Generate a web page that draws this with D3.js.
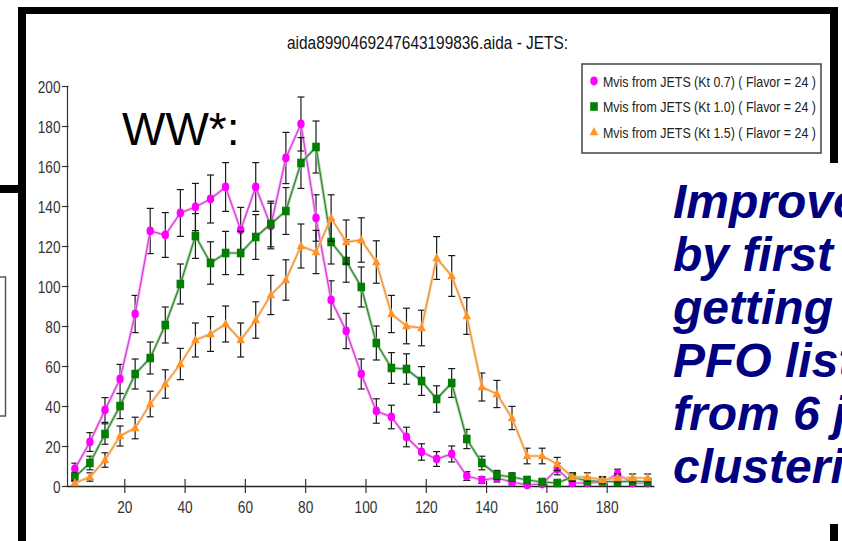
<!DOCTYPE html>
<html>
<head>
<meta charset="utf-8">
<script src="https://cdn.jsdelivr.net/npm/d3@7/dist/d3.min.js"></script>
<style>
  html, body { margin: 0; padding: 0; background: #fff; overflow: hidden; }
  svg { display: block; }
</style>
</head>
<body>
<svg id="slide" width="842" height="541"></svg>
<script>
// Visible-mass histogram bins (GeV), one point per bin centre
const binCenters = [3.6, 8.6, 13.6, 18.6, 23.6, 28.6, 33.6, 38.6, 43.6, 48.6,
  53.6, 58.6, 63.6, 68.6, 73.6, 78.6, 83.6, 88.6, 93.6, 98.6,
  103.6, 108.6, 113.6, 118.6, 123.6, 128.6, 133.6, 138.6, 143.6, 148.6,
  153.6, 158.6, 163.6, 168.6, 173.6, 178.6, 183.6, 188.6, 193.6];

// Entries per bin, Kt 0.7
const mvisKt07 = [8.5, 22, 38, 53.5, 86, 127.5, 125.5, 136.5, 139.5, 143.5,
  149.5, 128, 149.5, 130, 164, 181, 134, 93, 77.5, 56,
  37.5, 34.5, 24.5, 17, 13.5, 16, 5, 3, 4, 2,
  0.5, 1, 8.5, 1.5, 1.5, 2, 6, 1.5, 1.5];
const errKt07 = [2.9, 4.7, 6.2, 7.3, 9.3, 11.3, 11.2, 11.7, 11.8, 12.0,
  12.2, 11.3, 12.2, 11.4, 12.8, 13.5, 11.6, 9.6, 8.8, 7.5,
  6.1, 5.9, 4.9, 4.1, 3.7, 4.0, 2.2, 1.7, 2.0, 1.4,
  0.7, 1.0, 2.9, 1.2, 1.2, 1.4, 2.4, 1.2, 1.2];

// Entries per bin, Kt 1.0
const mvisKt10 = [4.5, 11.5, 26, 40, 56, 64, 80.5, 101, 125, 111.5,
  116.5, 116.5, 124.5, 131, 137.5, 161.5, 169.5, 122, 112.5, 99.5,
  71.5, 59, 58.5, 52.5, 43.5, 51.5, 23.5, 11.5, 5.5, 4.5,
  3, 2, 1.5, 4.5, 2.5, 2.5, 2, 2.5, 2];
const errKt10 = [2.1, 3.4, 5.1, 6.3, 7.5, 8.0, 9.0, 10.0, 11.2, 10.6,
  10.8, 10.8, 11.2, 11.4, 11.7, 12.7, 13.0, 11.0, 10.6, 10.0,
  8.5, 7.7, 7.6, 7.2, 6.6, 7.2, 4.8, 3.4, 2.3, 2.1,
  1.7, 1.4, 1.2, 2.1, 1.6, 1.6, 1.4, 1.6, 1.4];

// Entries per bin, Kt 1.5
const mvisKt15 = [1.5, 4.5, 13, 25, 29, 41, 51, 61, 73, 76,
  81, 73, 83, 95.5, 103, 120, 117, 134, 122, 123,
  112, 86, 80, 79, 114, 105, 85, 49.5, 46, 34,
  15, 15, 11, 4.5, 4.5, 3, 4, 4, 4];
const errKt15 = [1.2, 2.1, 3.6, 5.0, 5.4, 6.4, 7.1, 7.8, 8.5, 8.7,
  9.0, 8.5, 9.1, 9.8, 10.1, 11.0, 10.8, 11.6, 11.0, 11.1,
  10.6, 9.3, 8.9, 8.9, 10.7, 10.2, 9.2, 7.0, 6.8, 5.8,
  3.9, 3.9, 3.3, 2.1, 2.1, 1.7, 2.0, 2.0, 2.0];

const seriesNames = [
  "Mvis from JETS (Kt 0.7) ( Flavor = 24 )",
  "Mvis from JETS (Kt 1.0) ( Flavor = 24 )",
  "Mvis from JETS (Kt 1.5) ( Flavor = 24 )"
];
const xTicks = [20, 40, 60, 80, 100, 120, 140, 160, 180];
const yTicks = [0, 20, 40, 60, 80, 100, 120, 140, 160, 180, 200];
const chartTitle = "aida8990469247643199836.aida - JETS:";
const slideLines = ["Improve", "by first", "getting", "PFO list", "from 6 j", "clusteri"];

const series = [
  { name: seriesNames[0], values: mvisKt07, errors: errKt07, shape: "ellipse",
    fill: "#ff00ff", core: "#d93ad9", halo: "#f2a6f2" },
  { name: seriesNames[1], values: mvisKt10, errors: errKt10, shape: "square",
    fill: "#008000", core: "#2e862e", halo: "#9cc89c" },
  { name: seriesNames[2], values: mvisKt15, errors: errKt15, shape: "triangle",
    fill: "#ff9326", core: "#f0922f", halo: "#f7c9a0" }
];

const svg = d3.select("#slide");
// condensed chart lettering: a regular sans squeezed to a fixed run length
const chartFont = "'Liberation Sans', Arial, sans-serif";
function squeeze(sel, perChar) {
  sel.each(function () {
    const t = d3.select(this);
    const n = t.text().length;
    t.attr("textLength", perChar(n)).attr("lengthAdjust", "spacingAndGlyphs");
  });
}

// ---- slide frame pieces ----
const frame = svg.append("g").attr("fill", "#000");
frame.append("rect").attr("x", 18).attr("y", 7).attr("width", 820).attr("height", 7);
frame.append("rect").attr("x", 18).attr("y", 7).attr("width", 8).attr("height", 534);
frame.append("rect").attr("x", 830).attr("y", 7).attr("width", 8).attr("height", 156);
frame.append("rect").attr("x", 830).attr("y", 524).attr("width", 8).attr("height", 17);
frame.append("rect").attr("x", 0).attr("y", 185).attr("width", 22).attr("height", 8);
svg.append("rect").attr("x", -3).attr("y", 277).attr("width", 8.5).attr("height", 139)
  .attr("fill", "none").attr("stroke", "#555").attr("stroke-width", 1.5);

// ---- chart ----
const x = d3.scaleLinear().domain([1, 195.7]).range([67, 654]);
const y = d3.scaleLinear().domain([0, 200]).range([486, 86]);

svg.append("text")
  .attr("x", 427.5).attr("y", 48.5)
  .attr("text-anchor", "middle")
  .attr("font-family", chartFont).attr("font-size", 17.5)
  .attr("fill", "#111")
  .attr("textLength", 281).attr("lengthAdjust", "spacingAndGlyphs")
  .text(chartTitle);

const yAxis = svg.append("g")
  .attr("transform", `translate(${x(1)},0)`)
  .call(d3.axisLeft(y).tickValues(yTicks).tickSize(5).tickSizeOuter(0).tickFormat(d3.format("d")));
yAxis.select(".domain").attr("stroke", "#333").attr("stroke-width", 1.2);
yAxis.selectAll(".tick line").attr("x1", 1.5).attr("stroke", "#333").attr("stroke-width", 1.2);
yAxis.selectAll(".tick text")
  .attr("x", -6.5).attr("dy", "0.36em")
  .attr("font-family", chartFont).attr("font-size", 17).attr("fill", "#333")
  .call(squeeze, n => n * 7.6);

const xAxis = svg.append("g")
  .attr("transform", `translate(0,${y(0)})`)
  .call(d3.axisBottom(x).tickValues(xTicks).tickSize(7).tickSizeOuter(0).tickFormat(d3.format("d")));
xAxis.select(".domain").attr("stroke", "#222").attr("stroke-width", 1.4);
xAxis.selectAll(".tick line").attr("y1", -7).attr("y2", 7).attr("stroke", "#333").attr("stroke-width", 1.2);
xAxis.selectAll(".tick text")
  .attr("y", 27).attr("dy", 0)
  .attr("font-family", chartFont).attr("font-size", 17).attr("fill", "#333")
  .call(squeeze, n => n * 7.6);

const line = d3.line().x(d => x(d.x)).y(d => y(d.v));

function drawMarker(g, shape, fill) {
  if (shape === "ellipse") {
    g.append("ellipse").attr("rx", 3.7).attr("ry", 4.4).attr("fill", fill);
  } else if (shape === "square") {
    g.append("rect").attr("x", -3.8).attr("y", -4.3).attr("width", 7.6).attr("height", 8.6).attr("fill", fill);
  } else {
    g.append("path").attr("d", "M0,-5L4.3,3.3L-4.3,3.3Z").attr("fill", fill);
  }
}

series.forEach(s => {
  const pts = binCenters.map((c, i) => ({ x: c, v: s.values[i], e: s.errors[i] }));
  const g = svg.append("g");

  // error bars with caps
  const eb = g.append("g").attr("stroke", "#1a1a1a").attr("stroke-width", 1.2);
  pts.filter(p => p.e > 0.8).forEach(p => {
    const cx = x(p.x), top = y(p.v + p.e), bot = y(Math.max(0, p.v - p.e));
    eb.append("line").attr("x1", cx).attr("x2", cx).attr("y1", top).attr("y2", bot);
    eb.append("line").attr("x1", cx - 3.5).attr("x2", cx + 3.5).attr("y1", top).attr("y2", top);
    eb.append("line").attr("x1", cx - 3.5).attr("x2", cx + 3.5).attr("y1", bot).attr("y2", bot);
  });

  // connecting line: soft halo plus core
  g.append("path").datum(pts).attr("d", line)
    .attr("fill", "none").attr("stroke", s.halo).attr("stroke-width", 3).attr("stroke-opacity", 0.8);
  g.append("path").datum(pts).attr("d", line)
    .attr("fill", "none").attr("stroke", s.core).attr("stroke-width", 1.2);

  // point markers
  pts.forEach(p => {
    const m = g.append("g").attr("transform", `translate(${x(p.x)},${y(p.v)})`);
    drawMarker(m, s.shape, s.fill);
  });
});

// legend
const legend = svg.append("g");
legend.append("rect").attr("x", 582).attr("y", 64).attr("width", 239).attr("height", 89)
  .attr("fill", "#fff").attr("stroke", "#444").attr("stroke-width", 1.5);
series.forEach((s, i) => {
  const ly = 81 + i * 25.5;
  const m = legend.append("g").attr("transform", `translate(594,${ly})`);
  drawMarker(m, s.shape, s.fill);
  legend.append("text")
    .attr("x", 603).attr("y", ly + 5.5)
    .attr("font-family", chartFont).attr("font-size", 15.2).attr("fill", "#222")
    .attr("textLength", 213).attr("lengthAdjust", "spacingAndGlyphs")
    .text(s.name);
});

// slide annotations
svg.append("text")
  .attr("x", 122).attr("y", 145)
  .attr("font-family", "'Liberation Sans', Arial, sans-serif").attr("font-size", 46)
  .attr("fill", "#000")
  .text("WW*:");

const note = svg.append("text")
  .attr("font-family", "'Liberation Sans', Arial, sans-serif")
  .attr("font-size", 48).attr("font-weight", "bold").attr("font-style", "italic")
  .attr("fill", "#000080");
slideLines.forEach((t, i) => {
  note.append("tspan").attr("x", 673).attr("y", 218 + i * 53).text(t);
});
</script>
</body>
</html>
